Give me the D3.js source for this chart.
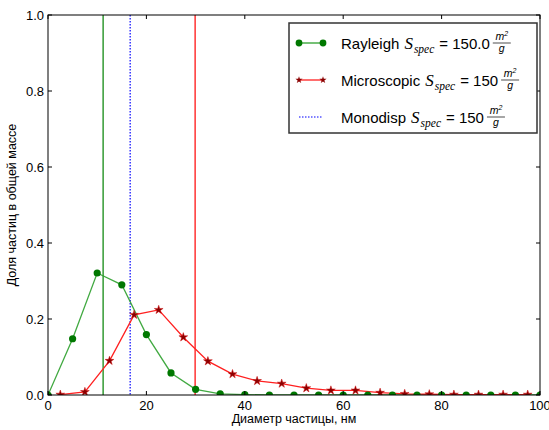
<!DOCTYPE html>
<html>
<head>
<meta charset="utf-8">
<script src="https://cdn.jsdelivr.net/npm/d3@7"></script>
<style>
  body { margin: 0; background: #fff; }
  text { font-family: "Liberation Sans", Arial, sans-serif; }
</style>
</head>
<body>
<svg id="viz"></svg>
<script>
// diameters, nm
const rayleighX = [0, 5, 10, 15, 20, 25, 30, 35, 40, 45, 50, 55, 60, 65, 70, 75, 80, 85, 90, 95, 100];
const rayleighY = [0, 0.148, 0.321, 0.290, 0.159, 0.058, 0.015, 0.003, 0.001, 0, 0, 0, 0, 0, 0, 0, 0, 0, 0, 0, 0];
const microX = [2.5, 7.5, 12.5, 17.5, 22.5, 27.5, 32.5, 37.5, 42.5, 47.5, 52.5, 57.5, 62.5, 67.5, 72.5, 77.5, 82.5, 87.5, 92.5, 97.5];
const microY = [0.001, 0.008, 0.090, 0.211, 0.224, 0.152, 0.089, 0.055, 0.037, 0.030, 0.018, 0.012, 0.012, 0.006, 0.003, 0.002, 0.001, 0.001, 0.001, 0.001];
const vlines = [
  { x: 11.2, color: '#008000', dash: null },
  { x: 16.7, color: '#0000ff', dash: '1.5,1.5' },
  { x: 29.9, color: '#ff0000', dash: null },
];
const xTicks = [0, 20, 40, 60, 80, 100];
const yTicks = [0, 0.2, 0.4, 0.6, 0.8, 1.0];
const legendItems = [
  { name: 'Rayleigh', value: '150.0', kind: 'rayleigh' },
  { name: 'Microscopic', value: '150', kind: 'micro' },
  { name: 'Monodisp', value: '150', kind: 'mono' },
];

const W = 549, H = 430;
const margin = { left: 48, right: 9, top: 15, bottom: 35 };
const width = W - margin.left - margin.right;
const height = H - margin.top - margin.bottom;

const svg = d3.select('#viz').attr('width', W).attr('height', H);
const g = svg.append('g').attr('transform', 'translate(' + margin.left + ',' + margin.top + ')');

const x = d3.scaleLinear().domain([0, 100]).range([0, width]);
const y = d3.scaleLinear().domain([0, 1]).range([height, 0]);

g.append('clipPath').attr('id', 'clip')
  .append('rect').attr('width', width).attr('height', height);

const plot = g.append('g').attr('clip-path', 'url(#clip)');

// vertical mean lines
plot.selectAll('.vline')
  .data(vlines)
  .join('line')
  .attr('x1', (d) => x(d.x)).attr('x2', (d) => x(d.x))
  .attr('y1', 0).attr('y2', height)
  .attr('stroke', (d) => d.color)
  .attr('stroke-width', 1.2)
  .attr('stroke-dasharray', (d) => d.dash);

const line = d3.line().x((d) => x(d[0])).y((d) => y(d[1]));

const rayPts = rayleighX.map((v, i) => [v, rayleighY[i]]);
const micPts = microX.map((v, i) => [v, microY[i]]);

plot.append('path').datum(rayPts)
  .attr('d', line).attr('fill', 'none')
  .attr('stroke', '#2ca02c').attr('stroke-opacity', 0.9).attr('stroke-width', 1.3);

plot.append('path').datum(micPts)
  .attr('d', line).attr('fill', 'none')
  .attr('stroke', '#ff2020').attr('stroke-width', 1.3);

const star = d3.symbol().type(d3.symbolStar).size(24);

plot.selectAll('.star')
  .data(micPts)
  .join('path')
  .attr('transform', (d) => 'translate(' + x(d[0]) + ',' + y(d[1]) + ')')
  .attr('d', star)
  .attr('fill', '#8b0000')
  .attr('stroke', '#d01010')
  .attr('stroke-width', 0.5);

plot.selectAll('.dot')
  .data(rayPts)
  .join('circle')
  .attr('cx', (d) => x(d[0])).attr('cy', (d) => y(d[1]))
  .attr('r', 3.6)
  .attr('fill', '#007800');

// axes frame with inward ticks
const frame = g.append('g');
frame.append('rect')
  .attr('width', width).attr('height', height)
  .attr('fill', 'none').attr('stroke', '#000').attr('stroke-width', 1);

const tl = 4;
xTicks.forEach((t) => {
  frame.append('line').attr('x1', x(t)).attr('x2', x(t)).attr('y1', height).attr('y2', height - tl).attr('stroke', '#000');
  frame.append('line').attr('x1', x(t)).attr('x2', x(t)).attr('y1', 0).attr('y2', tl).attr('stroke', '#000');
  frame.append('text')
    .attr('x', x(t)).attr('y', height + 15)
    .attr('text-anchor', 'middle')
    .attr('font-size', 13)
    .text(t);
});
yTicks.forEach((t) => {
  frame.append('line').attr('x1', 0).attr('x2', tl).attr('y1', y(t)).attr('y2', y(t)).attr('stroke', '#000');
  frame.append('line').attr('x1', width).attr('x2', width - tl).attr('y1', y(t)).attr('y2', y(t)).attr('stroke', '#000');
  frame.append('text')
    .attr('x', -4).attr('y', y(t) + 4.5)
    .attr('text-anchor', 'end')
    .attr('font-size', 13)
    .text(d3.format('.1f')(t));
});

// axis labels
svg.append('text')
  .attr('x', margin.left + width / 2).attr('y', 423)
  .attr('text-anchor', 'middle')
  .attr('font-size', 12.5)
  .text('Диаметр частицы, нм');

svg.append('text')
  .attr('transform', 'translate(16,' + (margin.top + height / 2) + ') rotate(-90)')
  .attr('text-anchor', 'middle')
  .attr('font-size', 12.5)
  .text('Доля частиц в общей массе');

// legend
const leg = svg.append('g').attr('transform', 'translate(289,23)');
leg.append('rect')
  .attr('width', 248).attr('height', 110)
  .attr('fill', '#fff').attr('stroke', '#333').attr('stroke-width', 1.5);

const serif = '"Liberation Serif", serif';

legendItems.forEach((d, i) => {
  const row = leg.append('g').attr('transform', 'translate(0,' + (20 + i * 37) + ')');
  if (d.kind === 'rayleigh') {
    row.append('line').attr('x1', 10).attr('x2', 34).attr('stroke', '#2ca02c').attr('stroke-width', 1.3);
    [10, 34].forEach((px) => row.append('circle').attr('cx', px).attr('r', 3.4).attr('fill', '#007800'));
  } else if (d.kind === 'micro') {
    row.append('line').attr('x1', 10).attr('x2', 34).attr('stroke', '#ff2020').attr('stroke-width', 1.3);
    [10, 34].forEach((px) => row.append('path')
      .attr('transform', 'translate(' + px + ',0)')
      .attr('d', d3.symbol().type(d3.symbolStar).size(16))
      .attr('fill', '#8b0000'));
  } else {
    row.append('line').attr('x1', 10).attr('x2', 34).attr('stroke', '#0000ff')
      .attr('stroke-width', 1.2).attr('stroke-dasharray', '1.5,1.5');
  }

  const label = row.append('text').attr('x', 52).attr('y', 5.5).attr('font-size', 15);
  label.append('tspan').text(d.name);
  label.append('tspan')
    .attr('dx', 5)
    .attr('font-family', serif)
    .attr('font-style', 'italic')
    .attr('font-size', 17)
    .text('S');
  label.append('tspan')
    .attr('font-family', serif)
    .attr('font-style', 'italic')
    .attr('font-size', 11.5)
    .attr('dy', 4.5)
    .attr('dx', 1)
    .text('spec');
  label.append('tspan').attr('dy', -4.5).attr('dx', 5).text('= ' + d.value);

  const bb = label.node().getBBox();
  const fx = bb.x + bb.width + 12;
  const frac = row.append('g').attr('transform', 'translate(' + fx + ',0)');
  const num = frac.append('text').attr('y', -3).attr('text-anchor', 'middle')
    .attr('font-family', serif).attr('font-style', 'italic').attr('font-size', 10.5);
  num.append('tspan').text('m');
  num.append('tspan').attr('font-size', 7).attr('dy', -4).text('2');
  frac.append('line').attr('x1', -9).attr('x2', 9).attr('y1', 0).attr('y2', 0)
    .attr('stroke', '#000').attr('stroke-width', 0.7);
  frac.append('text').attr('y', 9).attr('text-anchor', 'middle')
    .attr('font-family', serif).attr('font-style', 'italic').attr('font-size', 10.5)
    .text('g');
});
</script>
</body>
</html>
